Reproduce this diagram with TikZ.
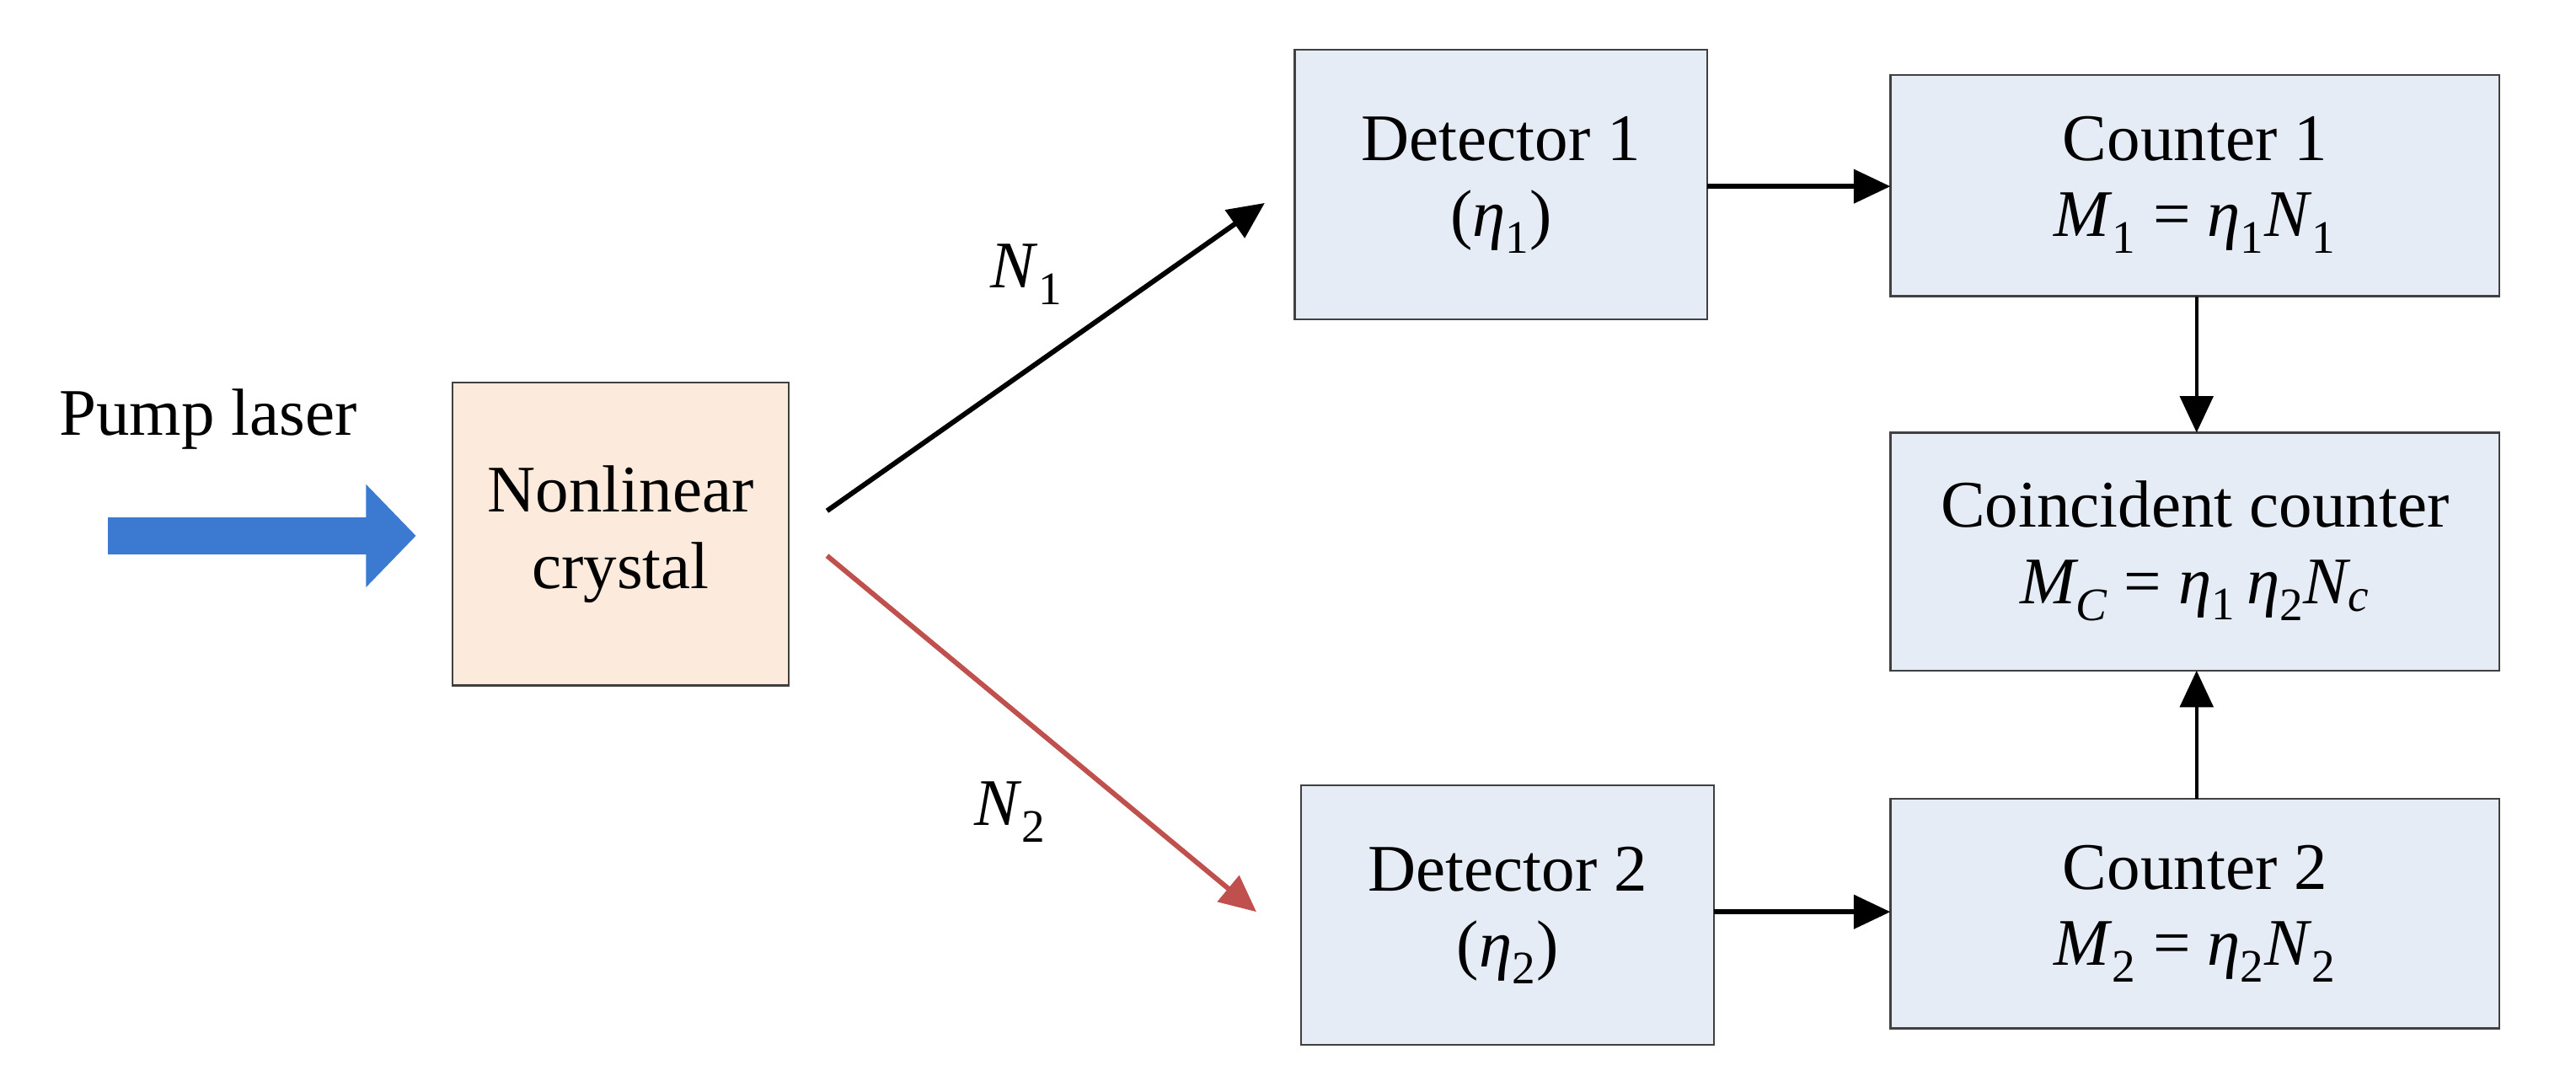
\documentclass[tikz,border=0pt]{standalone}
\usepackage{fontspec}
\setmainfont{Liberation Serif}
\usetikzlibrary{arrows.meta,shapes.arrows}
\newcommand{\lo}[1]{\textsubscript{#1}}
\definecolor{boxb}{HTML}{E6ECF6}
\definecolor{boxp}{HTML}{FCEBDD}
\definecolor{pumpblue}{HTML}{3C79D0}
\definecolor{redar}{HTML}{C0504D}
\begin{document}
\begin{tikzpicture}[x=1pt,y=-1pt,
  box/.style={draw=black!75,line width=1.2pt,fill=boxb},
  lbl/.style={font=\fontsize{40}{46}\selectfont,align=center},
  arr/.style={line width=3pt,-{Triangle[length=22pt,width=20pt]}}]
\useasboundingbox (0,0) rectangle (1548,656);
\filldraw[draw=black!75,line width=1.2pt,fill=boxp] (272,230) rectangle (474,412);
\node[lbl] (nc) at (373,321) {Nonlinear\\crystal};
\filldraw[box] (778,30) rectangle (1026,192);
\node[lbl] (d1) at (902,111) {Detector 1\\(\textit{η}\lo{1})};
\filldraw[box] (1136,45) rectangle (1502,178);
\node[lbl] (c1) at (1319,111) {Counter 1\\\textit{M}\lo{1} = \textit{η}\lo{1}\textit{N}\lo{1}};
\filldraw[box] (1136,260) rectangle (1502,403);
\node[lbl] (cc) at (1319,331) {Coincident counter\\\textit{M\lo{C}} = \textit{η}\lo{1}\,\textit{η}\lo{2}\textit{N\lo{c}}};
\filldraw[box] (782,472) rectangle (1030,628);
\node[lbl] (d2) at (906,550) {Detector 2\\(\textit{η}\lo{2})};
\filldraw[box] (1136,480) rectangle (1502,618);
\node[lbl] (c2) at (1319,549) {Counter 2\\\textit{M}\lo{2} = \textit{η}\lo{2}\textit{N}\lo{2}};
\node[lbl] (pl) at (125,252) {Pump laser};
\coordinate (ps) at (65,322);
\coordinate (pe) at (250,322);
\draw[pumpblue,line width=22pt,-{Triangle[length=30pt,width=60pt]}] (ps) -- (pe);
\coordinate (a1s) at (497,307); \coordinate (a1e) at (760,122);
\draw[arr] (a1s) -- (a1e);
\node[lbl] (n1) at (617,165) {\textit{N}\lo{1}};
\coordinate (a2s) at (497,334); \coordinate (a2e) at (755,548);
\draw[arr,redar] (a2s) -- (a2e);
\node[lbl] (n2) at (607,488) {\textit{N}\lo{2}};
\coordinate (d1e) at (1026,112); \coordinate (c1w) at (1136,112);
\draw[arr] (d1e) -- (c1w);
\coordinate (d2e) at (1030,548); \coordinate (c2w) at (1136,548);
\draw[arr] (d2e) -- (c2w);
\coordinate (c1s) at (1320,178); \coordinate (ccn) at (1320,260);
\draw[arr,line width=2pt] (c1s) -- (ccn);
\coordinate (c2n) at (1320,480); \coordinate (ccs) at (1320,403);
\draw[arr,line width=2pt] (c2n) -- (ccs);
\end{tikzpicture}
\end{document}
